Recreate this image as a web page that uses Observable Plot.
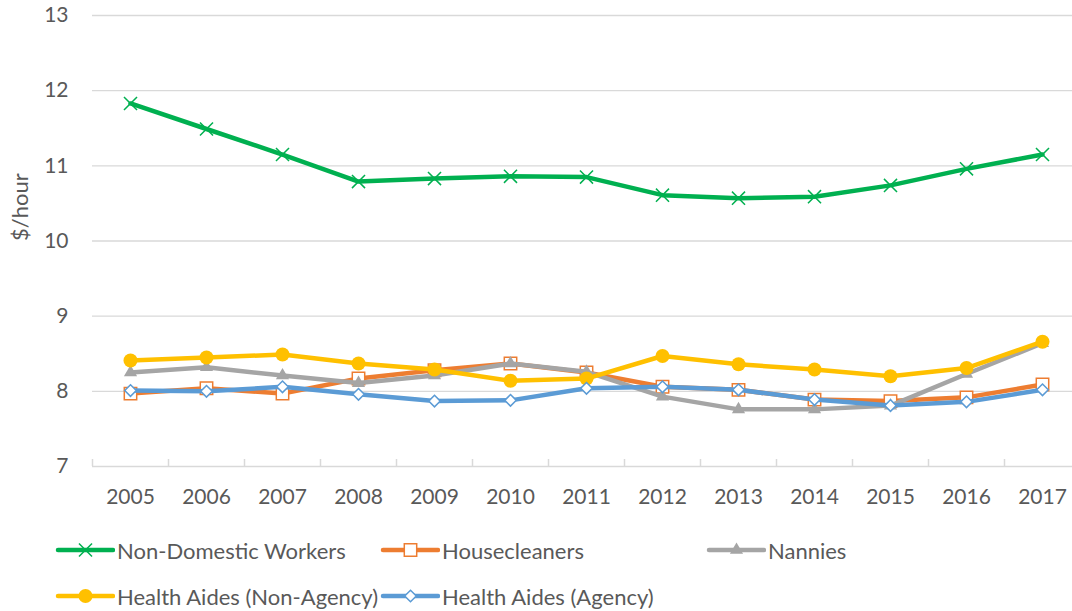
<!DOCTYPE html>
<html>
<head>
<meta charset="utf-8">
<script src="https://cdn.jsdelivr.net/npm/d3@7"></script>
<script src="https://cdn.jsdelivr.net/npm/@observablehq/plot@0.6"></script>
<style>
  body { margin: 0; background: #fff; font-family: Lato, "Open Sans", sans-serif; }
  #wrap { position: relative; width: 1072px; height: 611px; overflow: hidden; }
  #chart { position: absolute; left: 0; top: 0; }
  .leg { position: absolute; display: flex; align-items: center; height: 30px; }
  .leg span { font-size: 22px; color: #595959; margin-left: 2px; white-space: nowrap; }
</style>
</head>
<body>
<div id="wrap">
  <div id="chart"></div>
  <div id="legend"></div>
</div>
<script>
const years = [2005, 2006, 2007, 2008, 2009, 2010, 2011, 2012, 2013, 2014, 2015, 2016, 2017];
const nonDomestic     = [11.83, 11.49, 11.15, 10.79, 10.83, 10.86, 10.85, 10.61, 10.57, 10.59, 10.74, 10.96, 11.15];
const housecleaners   = [7.97, 8.04, 7.97, 8.17, 8.28, 8.37, 8.25, 8.06, 8.02, 7.89, 7.87, 7.92, 8.09];
const nannies         = [8.25, 8.32, 8.21, 8.11, 8.21, 8.37, 8.26, 7.93, 7.76, 7.76, 7.81, 8.23, 8.64];
const healthNonAgency = [8.41, 8.45, 8.49, 8.37, 8.29, 8.14, 8.17, 8.47, 8.36, 8.29, 8.20, 8.31, 8.66];
const healthAgency    = [8.01, 8.00, 8.06, 7.96, 7.87, 7.88, 8.04, 8.06, 8.02, 7.89, 7.81, 7.86, 8.02];
const seriesNames = ["Non-Domestic Workers", "Housecleaners", "Nannies", "Health Aides (Non-Agency)", "Health Aides (Agency)"];
const yTicks = [7, 8, 9, 10, 11, 12, 13];
const yLabel = "$/hour";

const seriesValues = [nonDomestic, housecleaners, nannies, healthNonAgency, healthAgency];
const styles = [
  {color: "#00B050", symbol: "times",    r: 6,   fill: "none",   stroke: "#00B050", sw: 1.5},
  {color: "#ED7D31", symbol: "square",   r: 7,   fill: "white",  stroke: "#ED7D31", sw: 1.5},
  {color: "#A5A5A5", symbol: "triangle", r: 4.9, fill: "#A5A5A5", stroke: "none",  sw: 0},
  {color: "#FFC000", symbol: "circle",   r: 7,   fill: "#FFC000", stroke: "none",  sw: 0},
  {color: "#5B9BD5", symbol: "diamond2", r: 5.2, fill: "white",  stroke: "#5B9BD5", sw: 1.5}
];

const boundaries = d3.range(years[0] - 0.5, years[years.length - 1] + 0.5, 1);

const marks = [
  Plot.ruleY(yTicks.filter(d => d > yTicks[0]), {stroke: "#d9d9d9", strokeWidth: 1.3}),
  Plot.ruleY([yTicks[0]], {stroke: "#d9d9d9", strokeWidth: 1.5}),
  Plot.ruleX(boundaries, {x: d => d, y1: yTicks[0], y2: yTicks[0], insetBottom: 7, stroke: "#d9d9d9", strokeWidth: 1.5}),
  Plot.axisY({ticks: yTicks, tickSize: 0, tickPadding: 24, fontSize: 21, color: "#595959", label: null, tickFormat: d => String(d)}),
  Plot.axisX({ticks: years, tickSize: 0, tickPadding: 23, fontSize: 21, color: "#595959", label: null, tickFormat: d => String(d)}),
  Plot.text([yLabel], {frameAnchor: "left", text: d => d, rotate: -90, dx: -72, fontSize: 22, fill: "#595959"})
];

seriesValues.forEach((vals, i) => {
  const data = years.map((y, j) => ({year: y, value: vals[j]}));
  const s = styles[i];
  marks.push(Plot.lineY(data, {x: "year", y: "value", stroke: s.color, strokeWidth: 4.5, strokeLinejoin: "round", strokeLinecap: "round"}));
  marks.push(Plot.dot(data, {x: "year", y: "value", symbol: () => s.symbol, r: s.r, fill: s.fill, stroke: s.stroke, strokeWidth: s.sw}));
});

const chart = Plot.plot({
  width: 1072,
  height: 520,
  marginTop: 15,
  marginBottom: 54,
  marginLeft: 92,
  marginRight: 0,
  style: {fontFamily: "Lato, 'Open Sans', sans-serif", background: "transparent", overflow: "visible"},
  x: {type: "linear", domain: [years[0] - 0.5, years[years.length - 1] + 0.5], range: [92, 1080]},
  y: {domain: [yTicks[0], yTicks[yTicks.length - 1]]},
  symbol: {type: "identity"},
  marks
});
document.getElementById("chart").appendChild(chart);

// Legend
const legPos = [[58, 550], [383, 550], [709, 550], [58, 596], [383, 596]];
const legend = document.getElementById("legend");
seriesNames.forEach((name, i) => {
  const s = styles[i];
  const [lx, ly] = legPos[i];
  const div = document.createElement("div");
  div.className = "leg";
  div.style.left = (lx - 3) + "px";
  div.style.top = (ly - 15) + "px";
  const svg = d3.create("svg").attr("width", 60).attr("height", 30);
  svg.append("line").attr("x1", 3).attr("x2", 58).attr("y1", 15).attr("y2", 15)
    .attr("stroke", s.color).attr("stroke-width", 4.5).attr("stroke-linecap", "round");
  const symMap = {times: d3.symbolTimes, square: d3.symbolSquare, triangle: d3.symbolTriangle, circle: d3.symbolCircle, diamond2: d3.symbolDiamond2};
  svg.append("path").attr("transform", "translate(30.5,15)")
    .attr("d", d3.symbol(symMap[s.symbol], Math.PI * s.r * s.r)())
    .attr("fill", s.fill).attr("stroke", s.stroke === "none" ? null : s.stroke).attr("stroke-width", s.sw);
  div.appendChild(svg.node());
  const span = document.createElement("span");
  span.textContent = name;
  div.appendChild(span);
  legend.appendChild(div);
});
</script>
</body>
</html>
